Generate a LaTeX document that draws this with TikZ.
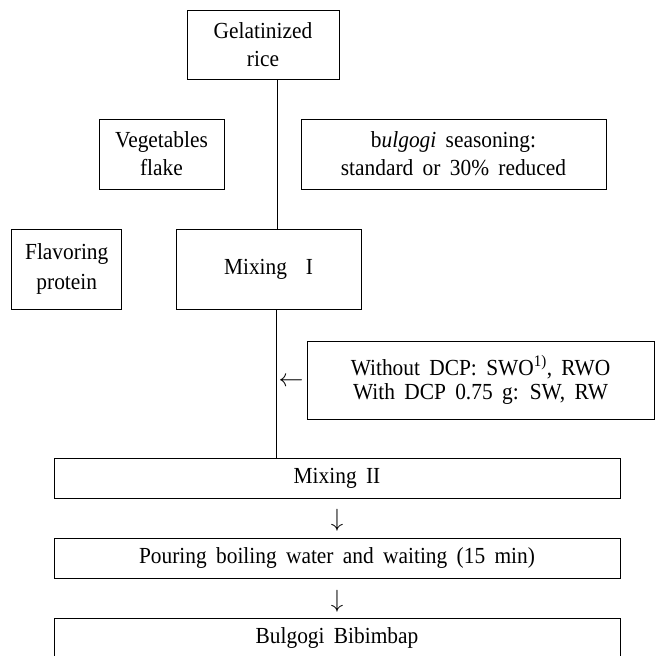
\documentclass[tikz,border=0pt]{standalone}
\usepackage{fontspec}
\setmainfont[WordSpace=1.75,FakeStretch=0.93]{Liberation Serif}
\begin{document}
\begin{tikzpicture}[x=1pt,y=-1pt,
  box/.style={draw,line width=0.9pt,inner sep=0pt,outer sep=0pt,align=center,
    font=\fontsize{23}{28}\selectfont},
  txt/.style={inner sep=0pt,outer sep=0pt,font=\fontsize{26}{28}\selectfont},
  conn/.style={line width=0.9pt}]
\useasboundingbox (0,0) rectangle (665,656);
\node[box,minimum width=152pt,minimum height=69pt] (rice) at (263,44.5) {Gelatinized\\rice};
\node[box,minimum width=125pt,minimum height=70pt] (veg) at (161.5,154) {Vegetables\\flake};
\node[box,minimum width=305pt,minimum height=70pt] (bul) at (453.5,154) {b\textit{ulgogi} seasoning:\\standard or 30\% reduced};
\node[box,minimum width=110pt,minimum height=80pt,font=\fontsize{23}{30}\selectfont] (flav) at (66.75,269) {Flavoring\\protein};
\node[box,minimum width=185pt,minimum height=80pt] (mix1) at (268.5,269) {Mixing~~I};
\node[box,minimum width=347pt,minimum height=78pt,font=\fontsize{23}{23.5}\selectfont] (dcp) at (480.5,380) {Without DCP: SWO\textsuperscript{1)}, RWO\\With DCP 0.75 g: SW, RW};
\node[box,minimum width=566pt,minimum height=40pt] (mix2) at (337,478) {Mixing II};
\node[box,minimum width=566pt,minimum height=40pt] (pour) at (337,558) {Pouring boiling water and waiting (15 min)};
\node[box,minimum width=566pt,minimum height=40pt] (bib) at (337,638) {Bulgogi Bibimbap};
\coordinate (s1) at (277,0);
\coordinate (s2) at (276,0);
\draw[conn] (s1 |- rice.south) -- (s1 |- mix1.north);
\draw[conn] (s2 |- mix1.south) -- (s2 |- mix2.north);
\node[txt] (la) at (291,382) {$\leftarrow$};
\node[txt] (d1) at (337,520) {$\downarrow$};
\node[txt] (d2) at (337,601) {$\downarrow$};
\end{tikzpicture}
\end{document}
